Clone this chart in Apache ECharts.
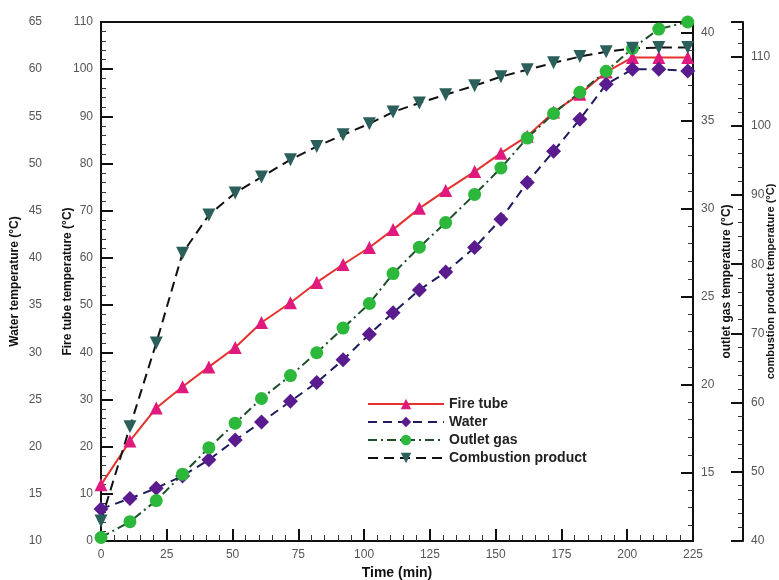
<!DOCTYPE html>
<html>
<head>
<meta charset="utf-8">
<script src="https://cdn.jsdelivr.net/npm/echarts@6/dist/echarts.min.js"></script>
<style>
    html, body {margin: 0; padding: 0; background: #fff;}
    #chart {width: 779px; height: 580px;}
</style>
</head>
<body>
<div id="chart"></div>
<script>
    // time of each reading (min)
    var times = [0, 11, 21, 31, 41, 51, 61, 72, 82, 92, 102, 111, 121, 131, 142, 152, 162, 172, 182, 192, 202, 212, 223];
    // fire tube temperature, left inner axis
    var fireTube = [11.9, 21.2, 28.2, 32.7, 36.9, 41.0, 46.3, 50.5, 54.8, 58.6, 62.2, 66.0, 70.5, 74.3, 78.3, 82.2, 85.8, 90.9, 94.7, 99.4, 102.5, 102.5, 102.5];
    // water temperature, left outer axis
    var water = [13.4, 14.5, 15.6, 16.9, 18.6, 20.7, 22.6, 24.8, 26.8, 29.2, 31.9, 34.2, 36.6, 38.5, 41.1, 44.1, 48.0, 51.3, 54.7, 58.4, 60.0, 60.0, 59.8];
    // outlet gas temperature, right inner axis
    var outletGas = [11.3, 12.2, 13.4, 14.9, 16.4, 17.8, 19.2, 20.5, 21.8, 23.2, 24.6, 26.3, 27.8, 29.2, 30.8, 32.3, 34.0, 35.4, 36.6, 37.8, 39.1, 40.2, 40.6];
    // combustion product temperature, right outer axis
    var combustion = [42.9, 56.5, 68.6, 81.6, 87.1, 90.3, 92.6, 95.1, 97.0, 98.7, 100.3, 102.0, 103.3, 104.5, 105.8, 107.1, 108.1, 109.1, 110.0, 110.7, 111.2, 111.3, 111.3];

    // outlet gas axis does not start on a round number, so its ticks are listed
    var gasTicks = [15, 20, 25, 30, 35, 40];
    var gasMinorTicks = [12, 13, 14, 16, 17, 18, 19, 21, 22, 23, 24, 26, 27, 28, 29, 31, 32, 33, 34, 36, 37, 38, 39];

    function pairs(vals) {
        var out = [];
        for (var i = 0; i < vals.length; i++) {
            out.push([times[i], vals[i]]);
        }
        return out;
    }

    var font = 'Liberation Sans, Arial, sans-serif';
    var labelStyle = {color: '#555', fontSize: 12, fontFamily: font};
    var lineBlack = {show: true, lineStyle: {color: '#111', width: 2}};

    function yAxis(opt) {
        var a = {
            type: 'value',
            position: opt.position,
            offset: opt.offset,
            min: opt.min,
            max: opt.max,
            name: opt.name,
            nameLocation: 'middle',
            nameGap: opt.nameGap,
            nameMoveOverlap: false,
            nameTextStyle: {color: '#111', fontSize: opt.nameSize, fontWeight: 'bold', fontFamily: font},
            axisLine: lineBlack,
            axisTick: {show: true, inside: true, length: opt.tickLen, lineStyle: {color: '#111', width: 2}},
            minorTick: {show: true, splitNumber: 5, length: 5, lineStyle: {color: '#333', width: 1}},
            axisLabel: Object.assign({margin: opt.margin, showMaxLabel: opt.showMax !== false}, labelStyle),
            splitLine: {show: false}
        };
        if (opt.interval) a.interval = opt.interval;
        return a;
    }

    var chart = echarts.init(document.getElementById('chart'));

    var gasAxis = yAxis({position: 'right', offset: 0, min: 11.1, max: 40.6, nameSize: 12,
        name: 'outlet gas temperature (\u00b0C)', nameGap: 28, tickLen: 12, margin: 8});
    gasAxis.axisTick.customValues = gasTicks;
    gasAxis.axisLabel.customValues = gasTicks;
    gasAxis.minorTick = {show: false};

    var option = {
        animation: false,
        grid: {
            left: 101, right: 86, top: 22, bottom: 39,
            outerBoundsMode: 'none', containLabel: false,
            show: true, borderColor: '#111', borderWidth: 2
        },
        legend: {
            orient: 'vertical',
            left: 362,
            top: 392,
            itemWidth: 76,
            itemHeight: 13,
            itemGap: 4,
            textStyle: {color: '#222', fontSize: 14, fontWeight: 'bold', fontFamily: font},
            data: ['Fire tube', 'Water', 'Outlet gas', 'Combustion product']
        },
        xAxis: {
            type: 'value',
            min: 0,
            max: 225,
            interval: 25,
            name: 'Time (min)',
            nameLocation: 'middle',
            nameGap: 25,
            nameMoveOverlap: false,
            nameTextStyle: {color: '#111', fontSize: 14, fontWeight: 'bold', fontFamily: font},
            axisLine: lineBlack,
            axisTick: {show: true, inside: true, length: 12, lineStyle: {color: '#111', width: 2}},
            minorTick: {show: true, splitNumber: 5, length: 6, lineStyle: {color: '#333', width: 1}},
            axisLabel: Object.assign({margin: 8}, labelStyle),
            splitLine: {show: false}
        },
        yAxis: [
            yAxis({position: 'left', offset: 51, min: 10, max: 65, interval: 5, nameSize: 12,
                name: 'Water temperature (\u00b0C)', nameGap: 29, tickLen: 12, margin: 8}),
            yAxis({position: 'left', offset: 0, min: 0, max: 110, interval: 10, nameSize: 12,
                name: 'Fire tube temperature (\u00b0C)', nameGap: 27, tickLen: 10, margin: 8}),
            gasAxis,
            yAxis({position: 'right', offset: 50, min: 40, max: 115, interval: 10, showMax: false, nameSize: 11,
                name: 'combustion product temperature (\u00b0C)', nameGap: 22, tickLen: 12, margin: 8}),
            {
                type: 'value', position: 'right', offset: 0, min: 11.1, max: 40.6,
                axisLine: {show: false},
                axisTick: {show: true, inside: true, length: 5, customValues: gasMinorTicks, lineStyle: {color: '#333', width: 1}},
                axisLabel: {show: false},
                splitLine: {show: false}
            }
        ],
        series: [
            {
                name: 'Fire tube', type: 'line', yAxisIndex: 1, data: pairs(fireTube),
                symbol: 'triangle', symbolSize: 13,
                itemStyle: {color: '#e0197d'},
                lineStyle: {color: '#e5322f', width: 2, type: 'solid'}
            },
            {
                name: 'Water', type: 'line', yAxisIndex: 0, data: pairs(water),
                symbol: 'diamond', symbolSize: 15,
                itemStyle: {color: '#5a1b8e'},
                lineStyle: {color: '#1d1d5e', width: 2, type: [9, 6]}
            },
            {
                name: 'Outlet gas', type: 'line', yAxisIndex: 2, data: pairs(outletGas),
                symbol: 'circle', symbolSize: 13,
                itemStyle: {color: '#2cb83b'},
                lineStyle: {color: '#1f4f2a', width: 2, type: [9, 4, 2, 4]}
            },
            {
                name: 'Combustion product', type: 'line', yAxisIndex: 3, data: pairs(combustion),
                symbol: 'triangle', symbolRotate: 180, symbolSize: 13,
                itemStyle: {color: '#2b5f5b'},
                lineStyle: {color: '#111', width: 2, type: [10, 6]}
            }
        ]
    };

    chart.setOption(option);
</script>
</body>
</html>
